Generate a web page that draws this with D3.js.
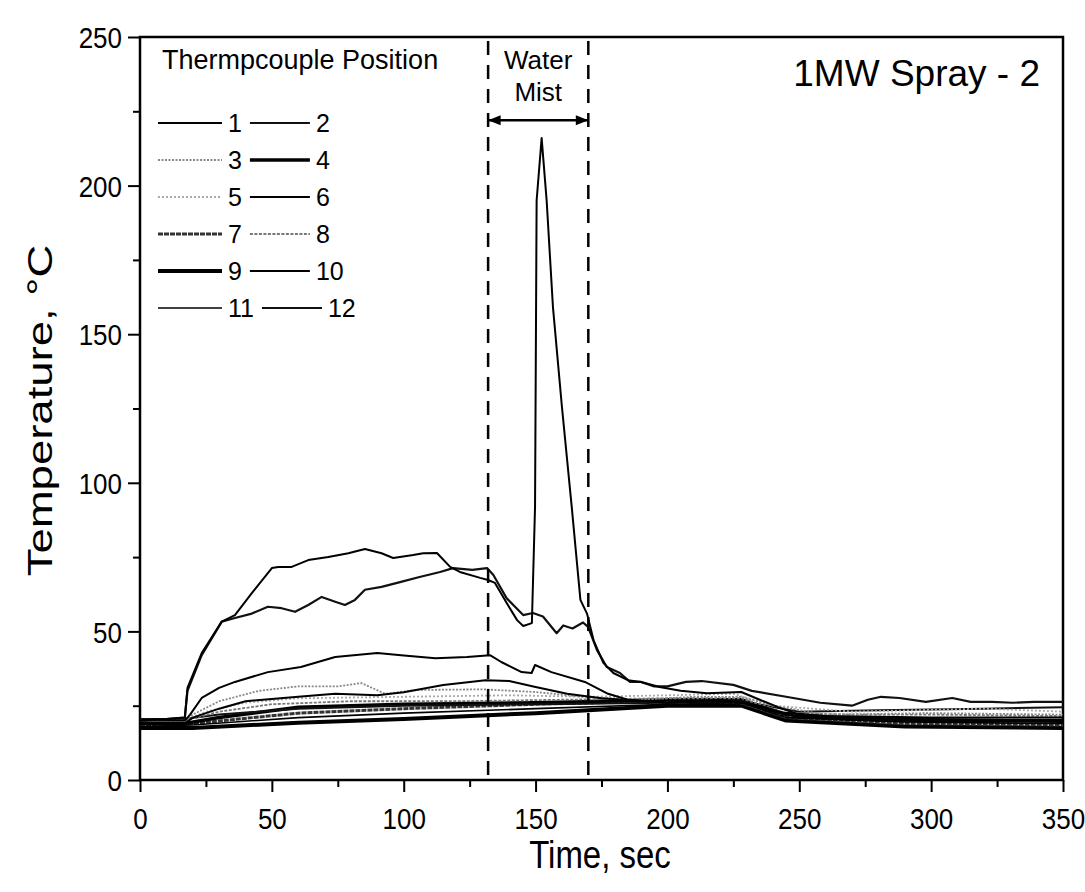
<!DOCTYPE html>
<html><head><meta charset="utf-8">
<script src="https://cdn.jsdelivr.net/npm/d3@7"></script>
<style>body{margin:0;background:#fff}svg{display:block;font-family:"Liberation Sans",Arial,sans-serif}</style>
</head><body><svg id="c" width="1085" height="892"></svg>
<script>
// ---- data ----
const xTicks = [0,50,100,150,200,250,300,350];
const yTicks = [0,50,100,150,200,250];
const mistStart = 132, mistEnd = 170;

const s1t = [0,10,17,18,23.4,31,36,42.4,50,52.4,57.5,63.8,71.4,79,85.3,91.6,96,103.6,107.4,112.6,117.6,121.3,129,132,134.6,139,143,145.3,148.6,149.8,150.4,152.3,154.2,156.6,160,163.7,167,169.5,172,175.7,179.5,185,190,197,205,215,228,235,242,250,270,300,330,350];
const s1v = [20,20.5,21,31,42.7,53.3,55.5,62.9,71.3,71.7,71.7,74,75,76.3,77.7,76.3,74.7,75.7,76.3,76.4,71.7,70,68,67.3,66.3,59.6,53.8,51.8,52.8,92,195,216,195,159,125.5,92,60.6,56,47,39.4,36,33.6,33,31.3,30,29.2,29.6,27,24.5,22,21,20.5,20.2,20];

const s2t = [0,10,17,18,23.4,31,36,42.4,48.5,53.7,58.8,63.8,68.9,74,77.7,81.5,85.3,91.6,98.6,106,113.8,118.7,126,131.6,134,139,145.3,149,152.8,158,160.5,164,168,169.9,173.3,177,182,185.8,190,195,200,207,213,225,232,245,258,270,276,281,288,298,308,315,323,331,339,350];
const s2v = [20,20.5,21,30,42,53.3,54.5,56,58.3,57.8,56.6,58.9,61.6,60,58.9,60.6,64,65,66.6,68.3,70,71.3,70.7,71.3,69,61.2,55.5,56.2,55,49.4,52,51,53,51.5,43.7,38,36,33,33,31.5,31.5,33,33.3,32,30,28,26,25,27,28,27.6,26.3,27.6,26.3,26.3,26,26.3,26.3];

const s6t = [0,10,17,19,23.4,30,36,48.5,61,74,90,99,112,124,132.7,137,144.7,148.5,149.8,156,168.7,177.5,185,200,215,230,240,260,300,350];
const s6v = [20,20,20,22,27.6,31,33,36.3,38,41.4,42.7,42,41,41.4,42,39.7,36.3,36,38.7,36.3,33,29,27,26,26.5,26,23,21.5,21,21];

const s10t = [0,10,17,20,30,40,60,74,90,100,115,131,140,150,162,175,200,220,235,250,280,320,350];
const s10v = [19,19,19,21,24,26.5,28,29,28.5,29.5,32,33.6,33.3,31.3,29,27.5,26,27,25,21,20,19.8,19.5];

const s3t = [0,10,17,20,30,45,60,75,84,93,105,130,150,168,190,210,228,240,260,300,350];
const s3v = [20,20,20,22,26.5,30,31.5,31.5,32.6,29,30.3,30.5,29.6,28,27,28,28,25,22,22.5,22];

const s5t = [0,17,25,40,60,100,140,170,200,225,240,270,320,350];
const s5v = [20,20,23,26,27.5,28,28.5,28,28.5,29,25,23,24,23];

const s8t = [0,17,30,50,80,120,160,200,228,245,270,300,350];
const s8v = [20,20,23,25.5,26.5,26.5,27,27.5,27.5,22.5,22,22,21.5];

const s4t = [0,17,30,60,100,150,200,228,245,270,300,350];
const s4v = [19,19,21,24.5,25.5,26,27,27,22,20.5,20,20];

const s7t = [0,20,60,100,150,200,228,245,290,350];
const s7v = [18.5,19,22.5,24,25.5,26.5,26,21,19,18.5];

const s9t = [0,20,60,100,150,200,228,245,290,350];
const s9v = [17.5,17.5,19.3,20.5,22.5,25,25,20,18,17.5];

const s11t = [0,20,60,100,150,200,228,245,290,350];
const s11v = [18,18.5,21,22.5,24,25.5,26,21,19.5,19];

const s12t = [0,17,30,60,100,150,200,228,250,280,320,350];
const s12v = [20.5,20.5,22,24,25,25.5,26,26.5,23,23.5,24,24.5];

const seriesNames = ["1","2","3","4","5","6","7","8","9","10","11","12"];
const seriesTimes = [s1t,s2t,s3t,s4t,s5t,s6t,s7t,s8t,s9t,s10t,s11t,s12t];
const seriesVals  = [s1v,s2v,s3v,s4v,s5v,s6v,s7v,s8v,s9v,s10v,s11v,s12v];

const styles = [
 {c:"#000",w:2,d:null},
 {c:"#111",w:2.2,d:null},
 {c:"#888",w:1.8,d:"2,1.5"},
 {c:"#000",w:3.5,d:null},
 {c:"#aaa",w:1.8,d:"2,2"},
 {c:"#000",w:2,d:null},
 {c:"#333",w:3,d:"5,1"},
 {c:"#777",w:1.8,d:"3,1.5"},
 {c:"#000",w:4,d:null},
 {c:"#000",w:2,d:null},
 {c:"#000",w:1.6,d:null},
 {c:"#111",w:2,d:null}
];

// ---- layout ----
const SY = 1.15; // vertical stretch of the scanned lettering
const svg = d3.select("#c");
const L=140,R=1063,T=37,B=780;
const x = d3.scaleLinear().domain([0,350]).range([L,R]);
const y = d3.scaleLinear().domain([0,250]).range([B,T]);

function styleAxis(g){
  g.select(".domain").remove();
  g.selectAll("line").attr("stroke","#000").attr("stroke-width",2);
  g.selectAll("text").attr("font-size",26).attr("fill","#000");
}
const gx = svg.append("g").attr("transform",`translate(0,${B})`)
  .call(d3.axisBottom(x).tickValues(xTicks).tickSize(12).tickPadding(12).tickFormat(d3.format("d"))).call(styleAxis);
gx.selectAll("text").attr("transform",`scale(1,${SY})`);
svg.append("g").attr("transform",`translate(0,${B})`)
  .call(d3.axisBottom(x).tickValues(d3.range(25,350,50)).tickSize(7).tickFormat("")).call(styleAxis);
const gy = svg.append("g").attr("transform",`translate(${L},0)`)
  .call(d3.axisLeft(y).tickValues(yTicks).tickSize(12).tickPadding(6).tickFormat(d3.format("d"))).call(styleAxis);
gy.selectAll(".tick text").attr("transform",`scale(1,${SY})`).attr("dy","0.36em");
svg.append("g").attr("transform",`translate(${L},0)`)
  .call(d3.axisLeft(y).tickValues(d3.range(25,250,50)).tickSize(7).tickFormat("")).call(styleAxis);
// the y tick group is translated per tick, so scaling text only stretches glyphs around baseline offset

svg.append("rect").attr("x",L).attr("y",T).attr("width",R-L).attr("height",B-T)
  .attr("fill","none").attr("stroke","#000").attr("stroke-width",2.5);

svg.append("clipPath").attr("id","clip").append("rect").attr("x",L).attr("y",T).attr("width",R-L).attr("height",B-T);

const line = d3.line().x(d=>x(d[0])).y(d=>y(d[1]));
const plot = svg.append("g").attr("clip-path","url(#clip)");
const drawOrder = [8,6,10,3,11,4,7,2,9,5,1,0];
drawOrder.forEach(i=>{
  const pts = seriesTimes[i].map((t,k)=>[t,seriesVals[i][k]]);
  const st = styles[i];
  plot.append("path").datum(pts).attr("d",line)
    .attr("fill","none").attr("stroke",st.c).attr("stroke-width",st.w)
    .attr("stroke-dasharray",st.d).attr("stroke-linejoin","round");
});

[mistStart,mistEnd].forEach(v=>{
  svg.append("line").attr("x1",x(v)).attr("x2",x(v)).attr("y1",T+4).attr("y2",B)
    .attr("stroke","#000").attr("stroke-width",2.5).attr("stroke-dasharray","14,10");
});
const defs = svg.append("defs");
defs.append("marker").attr("id","ah").attr("viewBox","0 0 10 10").attr("refX",10).attr("refY",5)
  .attr("markerWidth",6).attr("markerHeight",5).attr("orient","auto-start-reverse")
  .append("path").attr("d","M0,1 L10,5 L0,9 Z").attr("fill","#000");
const ay = y(222);
svg.append("line").attr("x1",x(mistStart)).attr("x2",x(mistEnd)).attr("y1",ay).attr("y2",ay)
  .attr("stroke","#000").attr("stroke-width",2.5)
  .attr("marker-start","url(#ah)").attr("marker-end","url(#ah)");
const mx = (x(mistStart)+x(mistEnd))/2;
function stxt(xx,yy,txt,size,anchor,sy){
  return svg.append("text").attr("transform",`translate(${xx},${yy}) scale(1,${sy||1})`)
    .attr("text-anchor",anchor||"start").attr("font-size",size).text(txt);
}
stxt(mx,69,"Water",26,"middle");
stxt(mx,101,"Mist",26,"middle");

stxt(1040,86,"1MW Spray - 2",37,"end");

// legend
stxt(162,69,"Thermpcouple Position",27,"start");
for(let row=0; row<6; row++){
  const yy = 123 + row*37;
  let cx = 158;
  for(let col=0; col<2; col++){
    const i = row*2+col;
    const st = styles[i];
    const segW = col===0 ? 64 : 60;
    svg.append("line").attr("x1",cx).attr("x2",cx+segW).attr("y1",yy).attr("y2",yy)
      .attr("stroke",st.c).attr("stroke-width",st.w).attr("stroke-dasharray",st.d);
    const t = stxt(cx+segW+6,yy+9,seriesNames[i],25,"start");
    cx = cx+segW+6+t.node().getComputedTextLength()+8;
  }
}

stxt(600,868,"Time, sec",33,"middle",SY);
svg.append("text").attr("transform",`translate(52,${(T+B)/2+2}) rotate(-90) scale(1.3,1)`)
  .attr("text-anchor","middle").attr("font-size",35).text("Temperature, °C");
</script></body></html>
